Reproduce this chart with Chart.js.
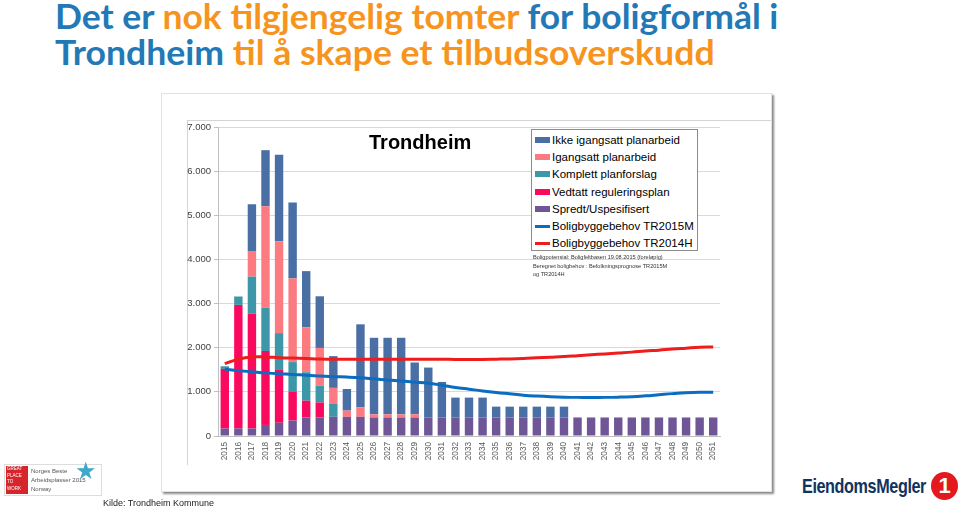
<!DOCTYPE html>
<html>
<head>
<meta charset="utf-8">
<script src="https://cdn.jsdelivr.net/npm/chart.js@4.4.1/dist/chart.umd.min.js"></script>
<style>
  body{margin:0;width:960px;height:509px;background:#fff;position:relative;overflow:hidden;font-family:"Liberation Sans",Arial,sans-serif;}
  .title{position:absolute;left:55px;font-family:Lato,sans-serif;font-weight:700;font-size:35px;line-height:36px;color:#2378b6;white-space:nowrap;transform-origin:0 0;}
  .title .o{color:#f7941d;}
  .frame{position:absolute;left:161px;top:93px;width:609px;height:397px;background:#fff;border:1px solid #e2e2e2;box-shadow:2px 2px 2px #8a8a8a;overflow:hidden;}
  .frame canvas{position:absolute;left:0;top:0;}
  .inner{position:absolute;left:25px;top:26px;width:600px;height:344px;border-left:1px solid #d4d4d4;border-top:1px solid #d4d4d4;}
  .ctitle{position:absolute;left:369px;top:131px;font-weight:700;font-size:20px;color:#000;}
  #legend{position:absolute;left:531px;top:129px;width:165px;height:119px;border:1px solid #8c8c8c;background:#fff;padding-top:1px;}
  .li{height:17.3px;display:flex;align-items:center;font-size:11.5px;color:#000;white-space:nowrap;}
  .sw{width:15px;margin-left:3px;margin-right:2px;}
  .note{position:absolute;left:533px;top:253px;font-size:5.6px;line-height:8.7px;color:#333;white-space:nowrap;}
  .kilde{position:absolute;left:103px;top:498px;font-size:9px;color:#222;}
  .gptw{position:absolute;left:4px;top:464px;width:96px;height:30px;border:1px solid #ddd;background:#fff;}
  .gptw .red{position:absolute;left:1px;top:1px;width:22px;height:28px;background:#d7262b;color:#fff;font-size:4.5px;line-height:6.5px;padding-left:1px;box-sizing:border-box;}
  .gptw .t{position:absolute;left:26px;top:2px;font-size:6px;line-height:9px;color:#555;}
  .gptw .star{position:absolute;left:70px;top:-8px;font-size:24px;color:#3fa9c9;}
  .em1{position:absolute;left:802px;top:474px;font-size:21px;font-weight:700;letter-spacing:-0.5px;color:#12325f;white-space:nowrap;transform-origin:0 0;}
  .one{position:absolute;left:931px;top:472px;width:27px;height:28px;border-radius:50%;background:#e3191f;color:#fff;font-weight:700;font-size:22px;text-align:center;line-height:28px;}
</style>
</head>
<body>
<div class="title" id="t1" style="top:-3px">Det er <span class="o">nok tilgjengelig tomter</span> for boligformål i</div>
<div class="title" id="t2" style="top:33px">Trondheim <span class="o">til å skape et tilbudsoverskudd</span></div>

<div class="frame">
  <div class="inner"></div>
  <canvas id="chart" width="611" height="399"></canvas>
</div>
<div class="ctitle">Trondheim</div>
<div id="legend"></div>
<div class="note">Boligpotensial: Boligfeltbasen 19.08.2015 (foreløpig)<br>Beregnet boligbehov : Befolkningsprognose TR2015M<br>og TR2014H</div>

<div class="gptw"><div class="red">GREAT<br>PLACE<br>TO<br>WORK</div><div class="t">Norges Beste<br>Arbeidsplasser 2015<br>Norway</div><div class="star">★</div></div>
<div class="kilde">Kilde: Trondheim Kommune</div>
<div class="em1" id="em1">EiendomsMegler</div>
<div class="one">1</div>

<script>
// ==== Data ====
const years = ['2015','2016','2017','2018','2019','2020','2021','2022','2023','2024','2025','2026','2027','2028','2029','2030','2031','2032','2033','2034','2035','2036','2037','2038','2039','2040','2041','2042','2043','2044','2045','2046','2047','2048','2049','2050','2051'];

const spredt    = [170,170,170,250,300,350,420,420,435,435,435,420,420,420,420,420,420,420,420,420,420,420,420,420,420,420,420,420,420,420,420,420,420,420,420,420,420];
const vedtatt   = [1350,2800,2600,1675,1210,660,380,340,0,0,0,0,0,0,0,0,0,0,0,0,0,0,0,0,0,0,0,0,0,0,0,0,0,0,0,0,0];
const komplett  = [60,190,840,980,820,665,645,380,290,0,0,0,0,0,0,0,0,0,0,0,0,0,0,0,0,0,0,0,0,0,0,0,0,0,0,0,0];
const igangsatt = [0,0,580,2300,2080,1895,1020,855,365,140,215,70,70,70,70,0,0,0,0,0,0,0,0,0,0,0,0,0,0,0,0,0,0,0,0,0,0];
const ikke      = [0,0,1060,1270,1960,1720,1270,1170,720,490,1880,1735,1735,1735,1175,1130,805,450,450,450,245,245,245,245,245,245,0,0,0,0,0,0,0,0,0,0,0];

const tr2015M = [1510,1480,1455,1430,1410,1395,1375,1360,1345,1335,1320,1295,1270,1245,1220,1195,1150,1100,1060,1020,985,955,925,905,890,880,875,875,875,880,890,910,935,960,980,990,990];
const tr2014H = [1640,1740,1790,1790,1775,1765,1755,1745,1740,1740,1740,1740,1740,1740,1740,1740,1740,1735,1735,1735,1740,1745,1755,1770,1785,1800,1820,1840,1860,1880,1900,1925,1945,1970,1990,2010,2015];

const yTicks = [0,1000,2000,3000,4000,5000,6000,7000];

// ==== Text fitting (title lines, logo) ====
function fitWidth(id, w){
  const el = document.getElementById(id);
  el.style.transform = 'scaleX(' + (w / el.offsetWidth) + ')';
}
fitWidth('t1', 723);
fitWidth('t2', 660);
fitWidth('em1', 124);

// ==== Chart ====
const bar = (label, data, color) => ({type:'bar', label, data, backgroundColor:color, order:1, barPercentage:0.62, categoryPercentage:1});
const line = (label, data, color, stack) => ({type:'line', label, data, borderColor:color, backgroundColor:color, borderWidth:3, pointRadius:0, tension:0.4, fill:false, order:0, stack});

const ctx = document.getElementById('chart').getContext('2d');
const chart = new Chart(ctx, {
  data: {
    labels: years,
    datasets: [
      bar('Spredt/Uspesifisert', spredt, '#6f5797'),
      bar('Vedtatt reguleringsplan', vedtatt, '#fa0a5f'),
      bar('Komplett planforslag', komplett, '#3e97a8'),
      bar('Igangsatt planarbeid', igangsatt, '#fb7b80'),
      bar('Ikke igangsatt planarbeid', ikke, '#4a6fa5'),
      line('Boligbyggebehov TR2015M', tr2015M, '#0b6cc0', 'm'),
      line('Boligbyggebehov TR2014H', tr2014H, '#ee1c1c', 'h')
    ]
  },
  options: {
    responsive:false, animation:false,
    layout:{ padding:{ left:25, right:53, top:33, bottom:27 } },
    plugins:{ legend:{display:false}, tooltip:{enabled:false} },
    scales:{
      x:{
        stacked:true,
        grid:{display:false, drawTicks:false},
        border:{color:'#bfbfbf'},
        ticks:{font:{size:8.2, family:'"Liberation Sans", Arial'}, color:'#595959', minRotation:90, maxRotation:90, autoSkip:false, padding:6},
        afterFit:s=>{ s.height = 30; }
      },
      y:{
        stacked:true, min:0, max:7000,
        afterBuildTicks:s=>{ s.ticks = yTicks.map(v=>({value:v})); },
        grid:{color:'#d9d9d9', tickLength:4, tickColor:'#bfbfbf'},
        border:{color:'#bfbfbf'},
        ticks:{font:{size:9.5, family:'"Liberation Sans", Arial'}, color:'#404040', padding:3,
          callback:v=> v===0 ? '0' : v.toLocaleString('de-DE')},
        afterFit:s=>{ s.width = 31; }
      }
    }
  }
});

// ==== Legend ====
const legendOrder = [4,3,2,1,0,5,6];
const legend = document.getElementById('legend');
legendOrder.forEach(i=>{
  const ds = chart.data.datasets[i];
  const row = document.createElement('div');
  row.className = 'li';
  const sw = document.createElement('span');
  sw.className = 'sw';
  sw.style.height = ds.type==='line' ? '3px' : '6px';
  sw.style.background = ds.type==='line' ? ds.borderColor : ds.backgroundColor;
  row.appendChild(sw);
  row.appendChild(document.createTextNode(ds.label));
  legend.appendChild(row);
});
</script>
</body>
</html>
